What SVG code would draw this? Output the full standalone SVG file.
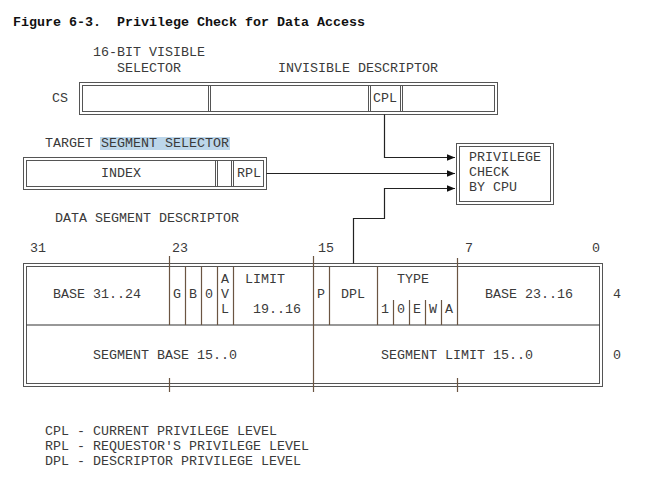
<svg xmlns="http://www.w3.org/2000/svg" width="656" height="492" viewBox="0 0 656 492">
<style>
text{font-family:"Liberation Mono","Courier New",monospace;font-size:13.33px;fill:#3a3a3a;white-space:pre}
.title{font-weight:bold;fill:#111}
.c{text-anchor:middle}
.box{fill:#fff;stroke:#555;stroke-width:1}
.in{fill:none;stroke:#555;stroke-width:1}
.div{stroke:#555;stroke-width:1}
.f{stroke:#6b5542;stroke-width:1.2}
.row{stroke:#333;stroke-width:1.2}
.con{fill:none;stroke:#222;stroke-width:1.2}
</style>
<defs>
<marker id="ah" viewBox="0 0 10 10" refX="10" refY="5" markerWidth="8" markerHeight="8" markerUnits="userSpaceOnUse" orient="auto">
<path d="M0,1 L10,5 L0,9 Z" fill="#111"/>
</marker>
</defs>
<rect width="656" height="492" fill="#fff"/>
<text class="title" x="13" y="26" xml:space="preserve">Figure 6-3.  Privilege Check for Data Access</text>

<g id="cs-register">
<text x="93" y="56">16-BIT VISIBLE</text>
<text x="117" y="72">SELECTOR</text>
<text x="278" y="72">INVISIBLE DESCRIPTOR</text>
<text x="52" y="102">CS</text>
<rect class="box" x="79.5" y="82.5" width="418" height="32"/>
<rect class="in" x="82.5" y="85.5" width="412" height="26"/>
<line class="div" x1="208.5" y1="85.5" x2="208.5" y2="111.5"/>
<line class="div" x1="210.5" y1="85.5" x2="210.5" y2="111.5"/>
<line class="div" x1="368.5" y1="85.5" x2="368.5" y2="111.5"/>
<line class="div" x1="370.5" y1="85.5" x2="370.5" y2="111.5"/>
<line class="div" x1="400.5" y1="85.5" x2="400.5" y2="111.5"/>
<line class="div" x1="402.5" y1="85.5" x2="402.5" y2="111.5"/>
<text x="373" y="102">CPL</text>
</g>

<g id="target-selector">
<rect x="100" y="137" width="130" height="13" fill="#bcd6ea"/>
<text x="45" y="147">TARGET SEGMENT SELECTOR</text>
<rect class="box" x="23.5" y="157.5" width="243" height="32"/>
<rect class="in" x="26.5" y="160.5" width="237" height="26"/>
<line class="div" x1="215.5" y1="160.5" x2="215.5" y2="186.5"/>
<line class="div" x1="217.5" y1="160.5" x2="217.5" y2="186.5"/>
<line class="div" x1="231.5" y1="160.5" x2="231.5" y2="186.5"/>
<line class="div" x1="233.5" y1="160.5" x2="233.5" y2="186.5"/>
<text class="c" x="121" y="177">INDEX</text>
<text x="237" y="177">RPL</text>
</g>

<g id="privilege-check">
<rect class="box" x="456.5" y="143.5" width="97" height="61"/>
<rect class="in" x="459.5" y="146.5" width="91" height="55"/>
<text x="469" y="161">PRIVILEGE</text>
<text x="469" y="176">CHECK</text>
<text x="469" y="191">BY CPU</text>
</g>

<g id="data-segment-descriptor">
<text x="55" y="222">DATA SEGMENT DESCRIPTOR</text>
<text x="30" y="252">31</text>
<text x="172" y="252">23</text>
<text x="318" y="252">15</text>
<text x="465" y="252">7</text>
<text x="592" y="252">0</text>
<rect class="box" x="23.5" y="263.5" width="579" height="123"/>
<rect class="in" x="26.5" y="266.5" width="573" height="117"/>
<line class="row" x1="26.5" y1="325" x2="599.5" y2="325"/>
<line class="f" x1="169.5" y1="256" x2="169.5" y2="325"/>
<line class="f" x1="169.5" y1="378" x2="169.5" y2="392"/>
<line class="f" x1="185.5" y1="266.5" x2="185.5" y2="325"/>
<line class="f" x1="201.5" y1="266.5" x2="201.5" y2="325"/>
<line class="f" x1="217.5" y1="266.5" x2="217.5" y2="325"/>
<line class="f" x1="233.5" y1="266.5" x2="233.5" y2="325"/>
<line class="f" x1="313.5" y1="256" x2="313.5" y2="392"/>
<line class="f" x1="329.5" y1="266.5" x2="329.5" y2="325"/>
<line class="f" x1="377.5" y1="266.5" x2="377.5" y2="325"/>
<line class="f" x1="393.5" y1="300" x2="393.5" y2="325"/>
<line class="f" x1="409.5" y1="300" x2="409.5" y2="325"/>
<line class="f" x1="425.5" y1="300" x2="425.5" y2="325"/>
<line class="f" x1="441.5" y1="300" x2="441.5" y2="325"/>
<line class="f" x1="457.5" y1="258" x2="457.5" y2="325"/>
<line class="f" x1="457.5" y1="378" x2="457.5" y2="392"/>
<text class="c" x="97" y="298">BASE 31..24</text>
<text class="c" x="177" y="298">G</text>
<text class="c" x="193" y="298">B</text>
<text class="c" x="209" y="298">0</text>
<text class="c" x="225" y="283">A</text>
<text class="c" x="225" y="298">V</text>
<text class="c" x="225" y="313">L</text>
<text class="c" x="265" y="283">LIMIT</text>
<text class="c" x="277" y="313">19..16</text>
<text class="c" x="321" y="298">P</text>
<text class="c" x="353" y="298">DPL</text>
<text class="c" x="413" y="283">TYPE</text>
<text class="c" x="385" y="313">1</text>
<text class="c" x="401" y="313">0</text>
<text class="c" x="417" y="313">E</text>
<text class="c" x="433" y="313">W</text>
<text class="c" x="449" y="313">A</text>
<text class="c" x="529" y="298">BASE 23..16</text>
<text x="613" y="298">4</text>
<text class="c" x="165" y="359">SEGMENT BASE 15..0</text>
<text class="c" x="457" y="359">SEGMENT LIMIT 15..0</text>
<text x="613" y="359">0</text>
</g>

<g id="connectors">
<polyline class="con" points="384.5,114.5 384.5,157.5 455,157.5" marker-end="url(#ah)"/>
<polyline class="con" points="266.5,173.5 455,173.5" marker-end="url(#ah)"/>
<polyline class="con" points="353.5,263.5 353.5,218.5 384.5,218.5 384.5,188.5 455,188.5" marker-end="url(#ah)"/>
</g>

<g id="legend">
<text x="45" y="435">CPL - CURRENT PRIVILEGE LEVEL</text>
<text x="45" y="450">RPL - REQUESTOR'S PRIVILEGE LEVEL</text>
<text x="45" y="465">DPL - DESCRIPTOR PRIVILEGE LEVEL</text>
</g>
</svg>
